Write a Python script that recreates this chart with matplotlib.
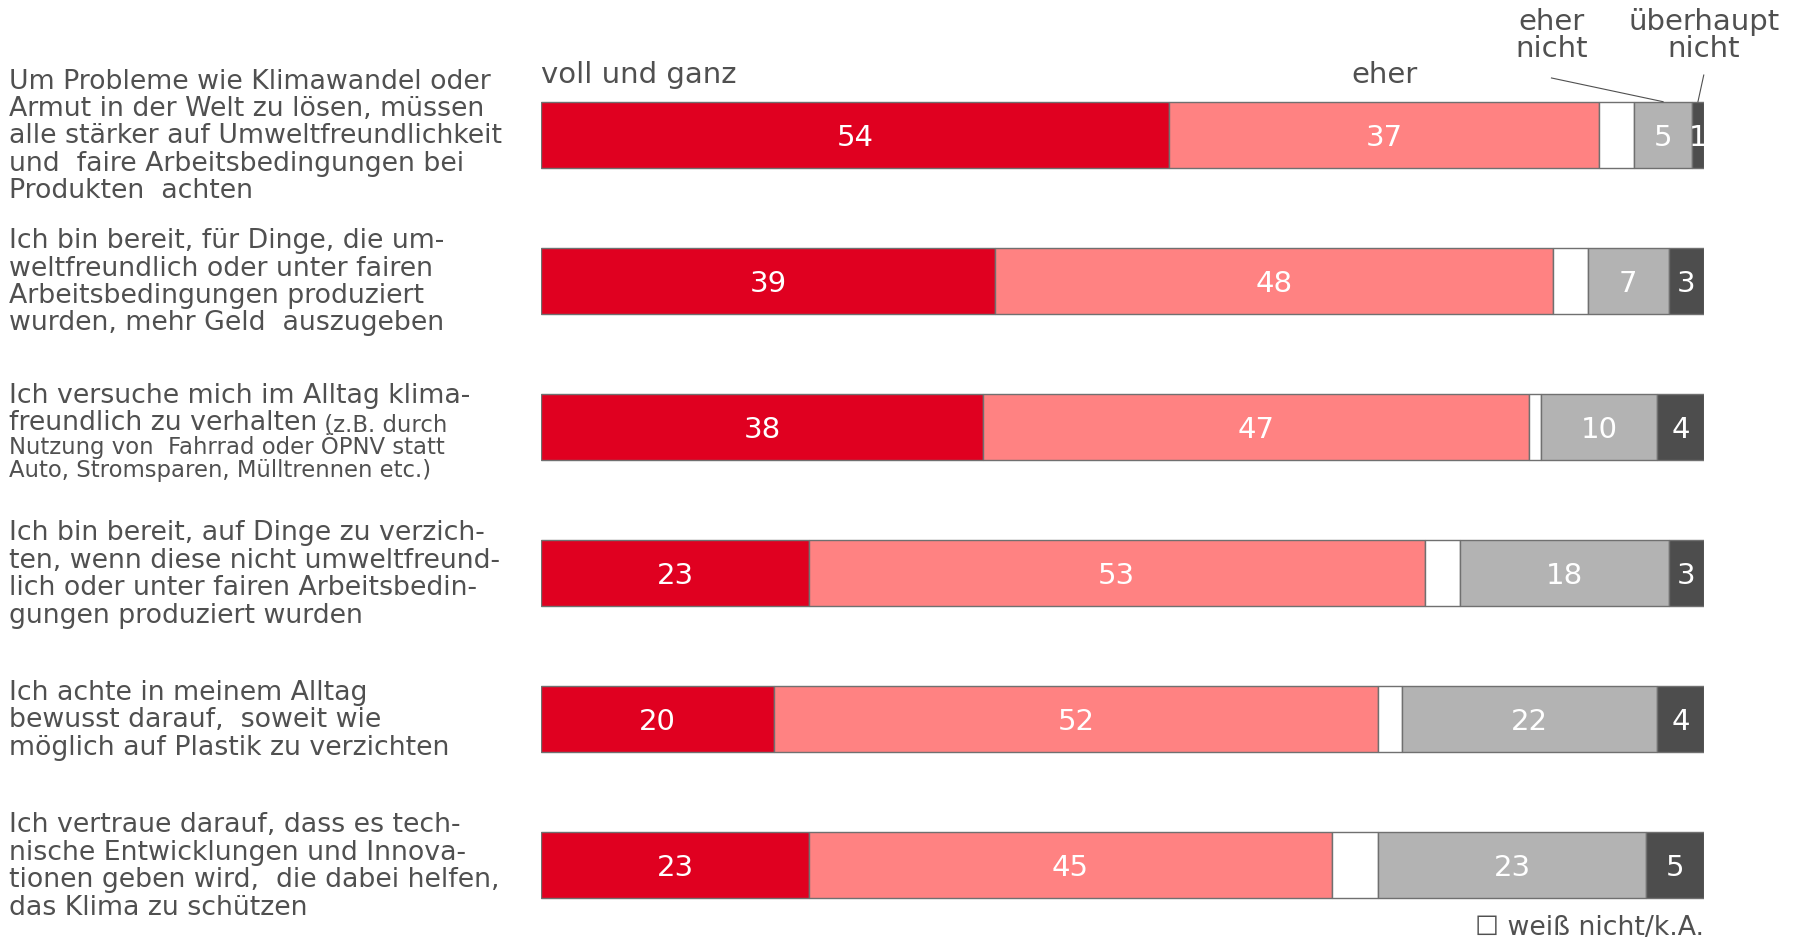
import matplotlib.pyplot as plt
import matplotlib.transforms as mtransforms

statements = [
    "Um Probleme wie Klimawandel oder\nArmut in der Welt zu lösen, müssen\nalle stärker auf Umweltfreundlichkeit\nund  faire Arbeitsbedingungen bei\nProdukten  achten",
    "Ich bin bereit, für Dinge, die um-\nweltfreundlich oder unter fairen\nArbeitsbedingungen produziert\nwurden, mehr Geld  auszugeben",
    "Ich versuche mich im Alltag klima-\nfreundlich zu verhalten",
    "Ich bin bereit, auf Dinge zu verzich-\nten, wenn diese nicht umweltfreund-\nlich oder unter fairen Arbeitsbedin-\ngungen produziert wurden",
    "Ich achte in meinem Alltag\nbewusst darauf,  soweit wie\nmöglich auf Plastik zu verzichten",
    "Ich vertraue darauf, dass es tech-\nnische Entwicklungen und Innova-\ntionen geben wird,  die dabei helfen,\ndas Klima zu schützen",
]
note_row = 2
note_inline = " (z.B. durch"
note_rest = ["Nutzung von  Fahrrad oder ÖPNV statt", "Auto, Stromsparen, Mülltrennen etc.)"]

series = ["voll und ganz", "eher", "weiß nicht/k.A.", "eher\nnicht", "überhaupt\nnicht"]
voll = [54, 39, 38, 23, 20, 23]
eher = [37, 48, 47, 53, 52, 45]
weiss = [3, 3, 1, 3, 2, 4]
eher_nicht = [5, 7, 10, 18, 22, 23]
ueberhaupt = [1, 3, 4, 3, 4, 5]
values = [voll, eher, weiss, eher_nicht, ueberhaupt]
colors = ["#E00020", "#FF8282", "#FFFFFF", "#B3B3B3", "#4D4D4D"]

txt = "#505050"
fs = 19.25
fs_small = 16.4
fs_head = 21

plt.rcParams['font.family'] = ['DejaVu Sans']
fig = plt.figure(figsize=(17.94, 9.38), dpi=100)
ax = fig.add_axes([0.3017, 0.0, 0.648, 0.934])

y = list(range(len(statements)))
h = 0.455
left = [0] * len(y)
for vals, col in zip(values, colors):
    ax.barh(y, vals, left=left, height=h, color=col, edgecolor="#707070", linewidth=1)
    if col != "#FFFFFF":
        for yi, l, v in zip(y, left, vals):
            ax.text(l + v / 2, yi, str(v), ha='center', va='center_baseline', color='white', fontsize=21)
    left = [a + b for a, b in zip(left, vals)]

ax.set_xlim(0, 100)
ax.set_ylim(5.5, -0.5)
ax.axis('off')

# headers above first bar
ax.text(0, -0.41, series[0], ha='left', va='center', color=txt, fontsize=fs_head)
ax.text(voll[0] + eher[0] / 2, -0.41, series[1], ha='center', va='center', color=txt, fontsize=fs_head)
ax.text(86.9, -0.68, series[3], ha='center', va='center', color=txt, fontsize=fs_head, linespacing=0.95)
ax.text(100, -0.68, series[4], ha='center', va='center', color=txt, fontsize=fs_head, linespacing=0.95)
gray_mid = voll[0] + eher[0] + weiss[0] + eher_nicht[0] / 2
dark_mid = 100 - ueberhaupt[0] / 2
ax.plot([86.9, gray_mid], [-0.39, -h / 2], color=txt, lw=0.8, clip_on=False)
ax.plot([100, dark_mid], [-0.41, -h / 2], color=txt, lw=0.8, clip_on=False)

# legend for white segment
ax.text(100, 5.43, "☐ " + series[2], ha='right', va='center', color=txt, fontsize=fs)

# statement labels
tr = mtransforms.blended_transform_factory(fig.transFigure, ax.transData)
for i, s in enumerate(statements):
    if i == note_row:
        lines = s.split("\n")
        ax.text(0.0051, i - 0.166, lines[0], transform=tr, ha='left', va='baseline', color=txt, fontsize=fs)
        t2 = ax.text(0.0051, i + 0.022, lines[1], transform=tr, ha='left', va='baseline', color=txt, fontsize=fs)
        ax.annotate(note_inline, xy=(1, 0), xycoords=t2, ha='left', va='bottom', color=txt, fontsize=fs_small)
        ax.text(0.0051, i + 0.186, note_rest[0], transform=tr, ha='left', va='baseline', color=txt, fontsize=fs_small)
        ax.text(0.0051, i + 0.343, note_rest[1], transform=tr, ha='left', va='baseline', color=txt, fontsize=fs_small)
    else:
        ax.text(0.0051, i + 0.01, s, transform=tr, ha='left', va='center', color=txt, fontsize=fs, linespacing=1.07)

fig.savefig("out.png", dpi=100)
